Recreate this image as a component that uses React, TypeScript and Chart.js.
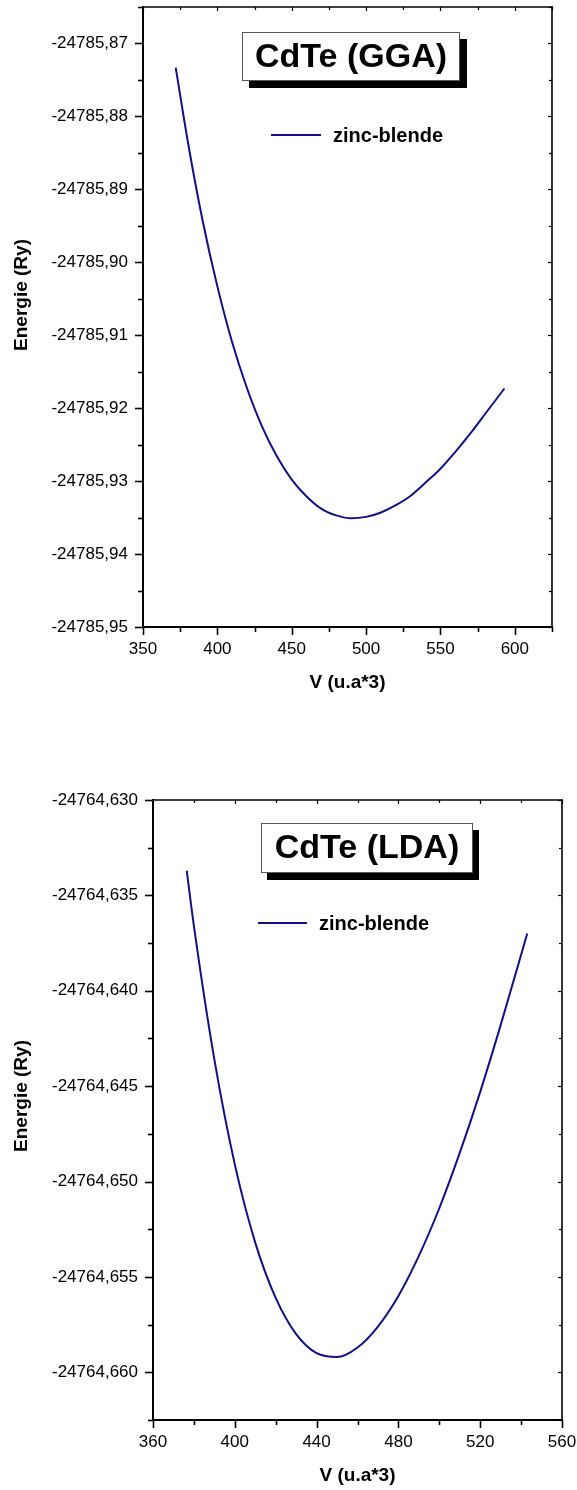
import React, { useEffect, useRef } from "react";
import { Chart, registerables } from "chart.js";

Chart.register(...registerables);

// ---------- data ----------
const GGA_V = [372, 380, 390, 400, 410, 420, 430, 440, 450, 460, 470, 480, 490, 500, 510, 520, 530, 540, 550, 560, 570, 580, 593];
const GGA_E = [
  -24785.8733, -24785.8833, -24785.8942, -24785.9033, -24785.911, -24785.9173, -24785.9225, -24785.9266,
  -24785.9298, -24785.9321, -24785.9338, -24785.9347, -24785.9351, -24785.9349, -24785.9343, -24785.9333,
  -24785.932, -24785.9302, -24785.9283, -24785.926, -24785.9235, -24785.9208, -24785.9173,
];
const GGA_X_TICKS = [350, 400, 450, 500, 550, 600];
const GGA_Y_TICKS = [-24785.95, -24785.94, -24785.93, -24785.92, -24785.91, -24785.9, -24785.89, -24785.88, -24785.87];

const LDA_V = [376.5, 380, 390, 400, 410, 420, 430, 440, 450, 460, 470, 480, 490, 500, 510, 520, 530, 543];
const LDA_E = [
  -24764.6337, -24764.6366, -24764.6436, -24764.6491, -24764.6532, -24764.6561, -24764.658, -24764.659,
  -24764.6592, -24764.6587, -24764.6576, -24764.656, -24764.6539, -24764.6514, -24764.6485, -24764.6453,
  -24764.6418, -24764.637,
];
const LDA_X_TICKS = [360, 400, 440, 480, 520, 560];
const LDA_Y_TICKS = [-24764.66, -24764.655, -24764.65, -24764.645, -24764.64, -24764.635, -24764.63];

const SERIES_LABEL = "zinc-blende";
const GGA_TITLE = "CdTe (GGA)";
const LDA_TITLE = "CdTe (LDA)";
const X_TITLE = "V (u.a*3)";
const Y_TITLE = "Energie (Ry)";

// ---------- styles ----------
const FONT = "'Liberation Sans', Arial, Helvetica, sans-serif";
const LINE_COLOR = "#10108a";
const W = 577;

function minorValues(major: number[], min: number, max: number) {
  const step = major[1] - major[0];
  const out: number[] = [];
  for (let k = -4; k <= major.length * 2 + 4; k += 1) {
    if (k % 2 === 0) continue;
    const v = major[0] + (k * step) / 2;
    const eps = Math.abs(step) * 1e-3;
    if (v >= min - eps && v <= max + eps) out.push(v);
  }
  return out;
}

const decorPlugin = {
  id: "decor",
  afterDraw(chart: any, _args: any, o: any) {
    const ctx: CanvasRenderingContext2D = chart.ctx;
    const a = chart.chartArea;
    const xs = chart.scales.x;
    const ys = chart.scales.y;
    ctx.save();
    ctx.strokeStyle = "#000";
    ctx.lineCap = "butt";

    const xMaj: number[] = o.xTicks;
    const yMaj: number[] = o.yTicks;
    const xMin = minorValues(xMaj, xs.min, xs.max);
    const yMin = minorValues(yMaj, ys.min, ys.max);

    const seg = (x1: number, y1: number, x2: number, y2: number, lw: number) => {
      ctx.lineWidth = lw;
      ctx.beginPath();
      ctx.moveTo(x1, y1);
      ctx.lineTo(x2, y2);
      ctx.stroke();
    };

    // bottom + top ticks
    xMaj.forEach((v) => {
      const p = Math.round(xs.getPixelForValue(v)) + 0.5;
      seg(p, a.bottom, p, a.bottom + 8, 1.6);
      seg(p, a.top, p, a.top + 4, 1.2);
    });
    xMin.forEach((v) => {
      const p = Math.round(xs.getPixelForValue(v)) + 0.5;
      seg(p, a.bottom, p, a.bottom + 5, 1.6);
      seg(p, a.top, p, a.top + 3, 1.2);
    });
    // left + right ticks
    yMaj.forEach((v) => {
      const p = Math.round(ys.getPixelForValue(v)) + 0.5;
      seg(a.left - 8, p, a.left, p, 1.6);
      seg(a.right, p, a.right - 4, p, 1.2);
    });
    yMin.forEach((v) => {
      const p = Math.round(ys.getPixelForValue(v)) + 0.5;
      seg(a.left - 5, p, a.left, p, 1.6);
      seg(a.right, p, a.right - 3, p, 1.2);
    });

    // frame
    seg(a.left, a.top - 1, a.left, a.bottom + 1, 2);
    seg(a.left - 1, a.bottom, a.right + 1, a.bottom, 2);
    seg(a.left, a.top, a.right + 1, a.top, 1.6);
    seg(a.right, a.top, a.right, a.bottom, 1.6);

    // title box with shadow
    const b = o.box;
    ctx.fillStyle = "#000";
    ctx.fillRect(b.x + b.dx, b.y + b.dy, b.w, b.h);
    ctx.fillStyle = "#fff";
    ctx.fillRect(b.x, b.y, b.w, b.h);
    ctx.strokeStyle = "#555";
    ctx.lineWidth = 1;
    ctx.strokeRect(b.x + 0.5, b.y + 0.5, b.w - 1, b.h - 1);
    ctx.fillStyle = "#000";
    ctx.font = `bold 34px ${FONT}`;
    ctx.textAlign = "center";
    ctx.textBaseline = "middle";
    ctx.fillText(o.title, b.x + b.w / 2, b.y + b.h / 2 + 1);

    // legend
    const lg = o.legend;
    ctx.strokeStyle = LINE_COLOR;
    ctx.lineWidth = 2;
    ctx.beginPath();
    ctx.moveTo(lg.x1, lg.y);
    ctx.lineTo(lg.x2, lg.y);
    ctx.stroke();
    ctx.fillStyle = "#000";
    ctx.font = `bold 20px ${FONT}`;
    ctx.textAlign = "left";
    ctx.textBaseline = "middle";
    ctx.fillText(SERIES_LABEL, lg.tx, lg.y + 1);

    // axis titles
    ctx.font = `bold 19px ${FONT}`;
    ctx.textAlign = "center";
    ctx.textBaseline = "middle";
    ctx.fillText(X_TITLE, (a.left + a.right) / 2, o.xTitleY);
    ctx.save();
    ctx.translate(o.yTitleX, o.yTitleY);
    ctx.rotate(-Math.PI / 2);
    ctx.fillText(Y_TITLE, 0, 0);
    ctx.restore();

    ctx.restore();
  },
};

type Cfg = {
  height: number;
  area: { left: number; right: number; top: number; bottom: number };
  xs: number[];
  es: number[];
  xMin: number;
  xMax: number;
  yMin: number;
  yMax: number;
  xTicks: number[];
  yTicks: number[];
  yDec: number;
  title: string;
  box: { x: number; y: number; w: number; h: number; dx: number; dy: number };
  legend: { x1: number; x2: number; y: number; tx: number };
  xTitleY: number;
  yTitleX: number;
  yTitleY: number;
};

function EnergyChart({ cfg }: { cfg: Cfg }) {
  const ref = useRef<HTMLCanvasElement | null>(null);
  useEffect(() => {
    if (!ref.current) return;
    const H = cfg.height;
    const chart = new Chart(ref.current, {
      type: "line",
      data: {
        datasets: [
          {
            label: SERIES_LABEL,
            data: cfg.xs.map((v, i) => ({ x: v, y: cfg.es[i] })),
            borderColor: LINE_COLOR,
            borderWidth: 2,
            pointRadius: 0,
            fill: false,
            cubicInterpolationMode: "monotone",
          },
        ],
      },
      options: {
        responsive: false,
        animation: false,
        devicePixelRatio: 1,
        layout: { padding: { left: 0, top: cfg.area.top, right: W - cfg.area.right, bottom: 0 } },
        plugins: {
          legend: { display: false },
          tooltip: { enabled: false },
          decor: {
            xTicks: cfg.xTicks,
            yTicks: cfg.yTicks,
            title: cfg.title,
            box: cfg.box,
            legend: cfg.legend,
            xTitleY: cfg.xTitleY,
            yTitleX: cfg.yTitleX,
            yTitleY: cfg.yTitleY,
          },
        } as any,
        scales: {
          x: {
            type: "linear",
            min: cfg.xMin,
            max: cfg.xMax,
            grid: { display: false, drawTicks: false },
            border: { display: false },
            ticks: {
              color: "#000",
              font: { family: FONT, size: 17 },
              padding: 12,
              maxRotation: 0,
              minRotation: 0,
              autoSkip: false,
              callback: (v: any) => String(v),
            },
            afterBuildTicks: (s: any) => {
              s.ticks = cfg.xTicks.map((v) => ({ value: v }));
            },
            afterFit: (s: any) => {
              s.height = H - cfg.area.bottom;
              s.paddingLeft = 0;
              s.paddingRight = 0;
            },
          },
          y: {
            type: "linear",
            min: cfg.yMin,
            max: cfg.yMax,
            grid: { display: false, drawTicks: false },
            border: { display: false },
            ticks: {
              color: "#000",
              font: { family: FONT, size: 17 },
              padding: 15,
              autoSkip: false,
              callback: (v: any) => Number(v).toFixed(cfg.yDec).replace(".", ","),
            },
            afterBuildTicks: (s: any) => {
              s.ticks = cfg.yTicks.map((v) => ({ value: v }));
            },
            afterFit: (s: any) => {
              s.width = cfg.area.left;
              s.paddingTop = 0;
              s.paddingBottom = 0;
            },
          },
        },
      },
      plugins: [decorPlugin],
    } as any);
    return () => chart.destroy();
  }, [cfg]);
  return <canvas ref={ref} width={W} height={cfg.height} style={{ display: "block", width: W, height: cfg.height }} />;
}

const TOP_CFG: Cfg = {
  height: 740,
  area: { left: 143, right: 552, top: 7, bottom: 627 },
  xs: GGA_V,
  es: GGA_E,
  xMin: 350,
  xMax: 625,
  yMin: -24785.95,
  yMax: -24785.865,
  xTicks: GGA_X_TICKS,
  yTicks: GGA_Y_TICKS,
  yDec: 2,
  title: GGA_TITLE,
  box: { x: 242, y: 32, w: 218, h: 49, dx: 7, dy: 7 },
  legend: { x1: 271, x2: 321, y: 135, tx: 333 },
  xTitleY: 683,
  yTitleX: 22,
  yTitleY: 295,
};

const BOTTOM_CFG: Cfg = {
  height: 750,
  area: { left: 153, right: 562, top: 60, bottom: 680 },
  xs: LDA_V,
  es: LDA_E,
  xMin: 360,
  xMax: 560,
  yMin: -24764.6625,
  yMax: -24764.63,
  xTicks: LDA_X_TICKS,
  yTicks: LDA_Y_TICKS,
  yDec: 3,
  title: LDA_TITLE,
  box: { x: 261, y: 83, w: 212, h: 50, dx: 6, dy: 7 },
  legend: { x1: 258, x2: 307, y: 183, tx: 319 },
  xTitleY: 736,
  yTitleX: 22,
  yTitleY: 356,
};

export default function App() {
  return (
    <div style={{ position: "absolute", left: 0, top: 0, width: W, height: 1490, background: "#fff", overflow: "hidden" }}>
      <EnergyChart cfg={TOP_CFG} />
      <EnergyChart cfg={BOTTOM_CFG} />
    </div>
  );
}
